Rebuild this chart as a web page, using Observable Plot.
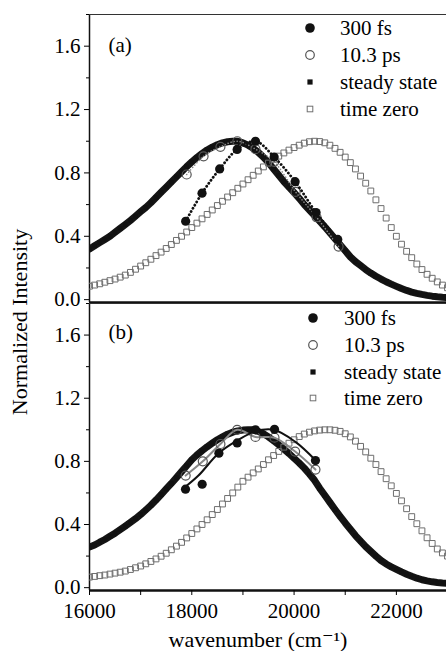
<!DOCTYPE html>
<html><head><meta charset="utf-8">
<script src="https://cdn.jsdelivr.net/npm/d3@7"></script>
<script src="https://cdn.jsdelivr.net/npm/@observablehq/plot@0.6"></script>
<style>
html,body{margin:0;padding:0;background:#fff;overflow:hidden;}
#wrap{position:relative;width:446px;height:651px;font-family:'Liberation Serif','Times New Roman',Times,'DejaVu Serif',serif;color:#000;}
#wrap > svg{position:absolute;left:0;}
#wrap text{font-family:'Liberation Serif','Times New Roman',Times,'DejaVu Serif',serif !important;}
</style></head><body><div id="wrap"></div>
<script>
// ---- data ----
const wavenumber = [16000,16100,16200,16300,16400,16500,16600,16700,16800,16900,
17000,17100,17200,17300,17400,17500,17600,17700,17800,17900,
18000,18100,18200,18300,18400,18500,18600,18700,18800,18900,
19000,19100,19200,19300,19400,19500,19600,19700,19800,19900,
20000,20100,20200,20300,20400,20500,20600,20700,20800,20900,
21000,21100,21200,21300,21400,21500,21600,21700,21800,21900,
22000,22100,22200,22300,22400,22500,22600,22700,22800,22900,23000];

const steadyA = [.32,.34,.36,.38,.40,.425,.45,.475,.50,.527,
.555,.582,.612,.645,.678,.71,.742,.775,.807,.84,
.87,.897,.922,.945,.963,.978,.99,.997,1.0,1.0,
.99,.975,.955,.93,.90,.865,.825,.785,.745,.71,
.675,.64,.60,.565,.53,.495,.46,.422,.384,.346,
.308,.27,.24,.215,.19,.168,.148,.13,.113,.098,
.084,.07,.058,.048,.04,.033,.027,.022,.018,.015,.013];

const timeZeroA = [.085,.092,.10,.11,.12,.13,.142,.155,.172,.192,
.212,.233,.255,.278,.30,.323,.348,.374,.40,.427,
.455,.483,.51,.538,.566,.594,.621,.648,.675,.703,
.73,.757,.785,.812,.838,.862,.885,.906,.926,.944,
.96,.975,.988,.997,1.0,.998,.99,.975,.955,.93,
.90,.865,.825,.78,.735,.686,.63,.575,.515,.455,
.40,.35,.305,.265,.225,.19,.16,.135,.112,.092,.075];

const steadyB = [.257,.27,.288,.305,.325,.345,.367,.39,.413,.437,
.463,.492,.522,.555,.59,.625,.66,.697,.735,.772,
.81,.84,.867,.892,.915,.937,.955,.972,.985,.993,
.998,1.0,1.0,.99,.975,.955,.93,.905,.877,.85,
.82,.79,.757,.72,.68,.63,.585,.54,.495,.452,
.41,.37,.33,.295,.26,.23,.20,.172,.15,.132,
.116,.10,.085,.072,.06,.05,.043,.037,.033,.03,.028];

const timeZeroB = [.067,.071,.076,.08,.086,.092,.098,.105,.115,.126,
.137,.151,.166,.182,.199,.218,.24,.263,.287,.315,
.343,.372,.40,.43,.463,.495,.53,.565,.60,.637,
.674,.70,.727,.752,.78,.81,.837,.863,.89,.915,
.937,.957,.973,.985,.993,.998,1.0,1.0,.997,.99,
.975,.955,.928,.895,.86,.82,.78,.735,.69,.645,
.597,.55,.50,.45,.405,.36,.316,.28,.245,.22,.20];

const fs300A_w = [17880,18200,18545,18887,19245,19610,20020,20430,20854];
const fs300A_v = [.495,.672,.825,.948,1.0,.90,.745,.55,.38];
const ps103A_w = [17900,18230,18560,18890,19245,19610,20030,20440,20870];
const ps103A_v = [.79,.905,.965,1.0,.95,.87,.68,.52,.335];

const fs300B_w = [17877,18203,18530,18887,19245,19617,20418];
const fs300B_v = [.624,.655,.852,.917,1.0,1.003,.805];
const fit300B_w = [17840,18130,18520,18880,19240,19600,20020,20410];
const fit300B_v = [.63,.71,.85,.93,.99,1.0,.925,.81];
const ps103B_w = [17880,18215,18560,18887,19245,19617,20020,20418];
const ps103B_v = [.71,.80,.91,1.0,.955,.95,.862,.748];

const seriesNames = ["300 fs","10.3 ps","steady state","time zero"];
const panelLabels = ["(a)","(b)"];
const xTicks = [16000,17000,18000,19000,20000,21000,22000,23000];
const yMajor = [0,0.4,0.8,1.2,1.6];
const yMinor = [0.2,0.6,1.0,1.4,1.8];
const xTitle = "wavenumber (cm\u207B\u00B9)";
const yTitle = "Normalized Intensity";

const xDomain = [16000, 22980];
const yDomain = [-0.018, 1.8];

const zip = (w, v) => w.map((x, i) => ({w: x, v: v[i]}));

const FONT = "'Liberation Serif','Times New Roman',Times,'DejaVu Serif',serif";

function panel(steady, tz, fs, fsFit, ps, label, opts) {
  const marks = [
    Plot.ruleX([xDomain[0]], {stroke: "#111", strokeWidth: 1.5}),
    Plot.ruleY([yDomain[1]], {stroke: "#333", strokeWidth: 1.2}),
    Plot.ruleY([yDomain[0]], {stroke: "#111", strokeWidth: 2.6}),
    Plot.axisY({ticks: yMajor, tickFormat: d3.format(".1f"), tickSize: 5, tickPadding: 4, fontSize: 21, label: null}),
    Plot.axisY({ticks: yMinor, tickFormat: () => "", tickSize: 3, label: null}),
    Plot.line(zip(wavenumber, steady), {x: "w", y: "v", stroke: "#151515", strokeWidth: 7, clip: true}),
    Plot.dot(zip(wavenumber, steady), {x: "w", y: "v", symbol: "square", r: 2.6, fill: "#111", clip: true}),
    Plot.dot(zip(wavenumber, tz), {x: "w", y: "v", symbol: "square", r: 3.3, stroke: "#6e6e6e", strokeWidth: 1, fill: "none", clip: true}),
    Plot.line(ps, {x: "w", y: "v", curve: "catmull-rom", stroke: "#888", strokeWidth: opts.solid ? 2 : 1.6, strokeDasharray: opts.solid ? null : "0.1,3", strokeLinecap: "round"}),
    Plot.dot(ps, {x: "w", y: "v", r: 4.5, stroke: "#555", strokeWidth: 1.2, fill: "none"}),
    Plot.line(fsFit, {x: "w", y: "v", curve: "catmull-rom", stroke: "#111", strokeWidth: opts.solid ? 2 : 2.8, strokeDasharray: opts.solid ? null : "0.1,3.6", strokeLinecap: "round"}),
    Plot.dot(fs, {x: "w", y: "v", r: 4.6, fill: "#111"}),
    Plot.text([label], {frameAnchor: "top-left", dx: 19, dy: opts.labelDy, textAnchor: "start", lineAnchor: "middle", fontSize: 21})
  ];
  if (opts.xAxis) {
    marks.push(Plot.axisX({ticks: xTicks, tickFormat: d => d % 2000 === 0 ? String(d) : "", tickSize: 5, tickPadding: 8, fontSize: 21, label: null}));
  }
  const p = Plot.plot({
    width: 446, height: opts.height,
    marginTop: opts.marginTop, marginBottom: opts.marginBottom, marginLeft: 89, marginRight: 0,
    x: {domain: xDomain, axis: null},
    y: {domain: yDomain, axis: null},
    style: {fontFamily: FONT, fontSize: "21px", background: "transparent", color: "#000", overflow: "visible"},
    marks
  });
  p.setAttribute("font-family", FONT);
  p.style.top = opts.top + "px";
  return p;
}

const wrap = document.getElementById("wrap");
wrap.appendChild(panel(steadyA, timeZeroA, zip(fs300A_w, fs300A_v), zip(fs300A_w, fs300A_v), zip(ps103A_w, ps103A_v), panelLabels[0],
  {height: 305, marginTop: 14, marginBottom: 3, top: 0, labelDy: 31, solid: false, xAxis: false}));
wrap.appendChild(panel(steadyB, timeZeroB, zip(fs300B_w, fs300B_v), zip(fit300B_w, fit300B_v), zip(ps103B_w, ps103B_v), panelLabels[1],
  {height: 351, marginTop: 3, marginBottom: 61, top: 300, labelDy: 29, solid: true, xAxis: true}));

// overlay: legends and axis titles
const ov = d3.select(wrap).append("svg")
  .attr("width", 446).attr("height", 651)
  .attr("font-family", FONT)
  .style("position", "absolute").style("left", 0).style("top", 0)
  .style("overflow", "visible");

function legend(cx, tx, rows) {
  const g = ov.append("g");
  rows.forEach((cy, i) => {
    if (i === 0) g.append("circle").attr("cx", cx).attr("cy", cy).attr("r", 4.8).attr("fill", "#111");
    if (i === 1) g.append("circle").attr("cx", cx).attr("cy", cy).attr("r", 4.3).attr("fill", "none").attr("stroke", "#555").attr("stroke-width", 1.2);
    if (i === 2) g.append("rect").attr("x", cx - 2.6).attr("y", cy - 2.6).attr("width", 5.2).attr("height", 5.2).attr("fill", "#111");
    if (i === 3) g.append("rect").attr("x", cx - 2.8).attr("y", cy - 2.8).attr("width", 5.6).attr("height", 5.6).attr("fill", "none").attr("stroke", "#707070").attr("stroke-width", 1);
    g.append("text").attr("x", tx).attr("y", cy).attr("dy", "0.33em").attr("font-size", 21).text(seriesNames[i]);
  });
}
legend(310, 340, [28, 55, 82, 109]);
legend(313, 344, [318, 345, 372, 398]);

ov.append("text").attr("x", 258).attr("y", 640).attr("dy", "0.33em").attr("text-anchor", "middle").attr("font-size", 22).text(xTitle);

ov.append("text").attr("transform", "translate(20,322) rotate(-90)").attr("dy", "0.33em")
  .attr("text-anchor", "middle").attr("font-size", 22).text(yTitle);
</script>
</body></html>
